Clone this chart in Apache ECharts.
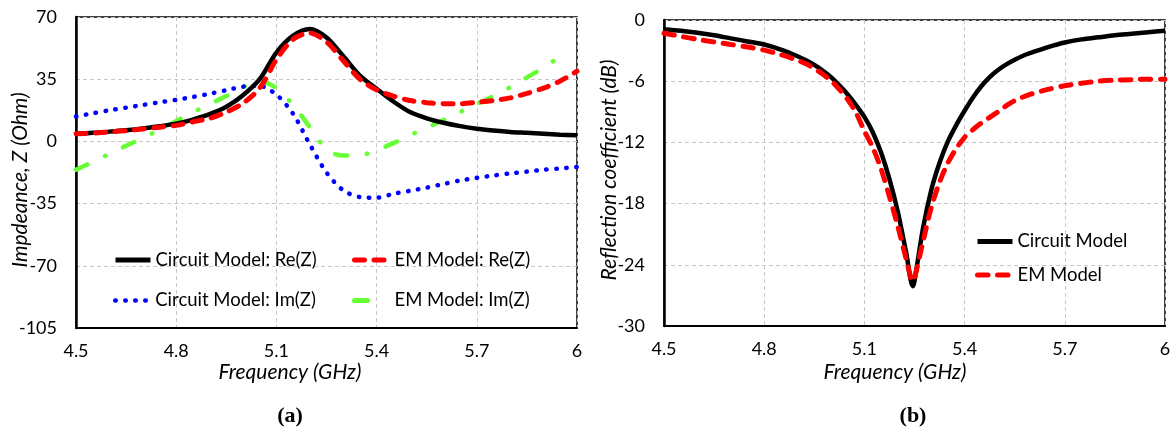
<!DOCTYPE html>
<html>
<head>
<meta charset="utf-8">
<script src="https://cdn.jsdelivr.net/npm/echarts@6/dist/echarts.min.js"></script>
<style>
html,body{margin:0;padding:0;background:#fff;}
#c{width:1175px;height:432px;}
</style>
</head>
<body>
<div id="c"></div>
<script>
// ---------- Data (a): impedance ----------
const freqZ = [4.5,4.55,4.6,4.65,4.7,4.75,4.8,4.85,4.9,4.95,5.0,5.05,5.1,5.15,5.2,5.25,5.3,5.35,5.4,5.45,5.5,5.55,5.6,5.65,5.7,5.75,5.8,5.85,5.9,5.95,6.0];
const reCircuit = [4.3,4.8,5.5,6.3,7.3,8.5,10,12.3,15.3,19.5,26,35,50,59.5,63.3,58.5,48,37,29.6,22.5,16.5,13,10.5,8.6,7.1,6.1,5.3,4.8,4.3,3.8,3.4];
const reEM = [4.3,4.7,5.3,6,7,8,9,11,13,16.5,21.5,30,46,57.5,61,56,45.5,35,29,25.5,23,21.8,21.2,21.2,22,23,24.5,27,30,34,39.5];
const imCircuit = [14,15.8,17.5,19,20.5,22,23.4,25,26.8,28.8,30.8,31.2,26.3,15.5,-1.7,-17.5,-27.5,-31.3,-31.7,-29.5,-27.8,-26,-24,-22,-20.5,-19.2,-18,-17,-16,-15.2,-14.4];
const imEM = [-16,-11.5,-7,-2.5,2,6.5,11.5,16.3,21,25.5,30.5,34,30,20.5,8,-4.5,-8,-7.8,-5,-1,3.5,7.7,12,16.5,21,25.5,30.5,36,41.5,48,null];
const yTicksZ = {min:-105, max:70, interval:35};

// ---------- Data (b): reflection coefficient ----------
const freqS = [4.5,4.55,4.6,4.65,4.7,4.75,4.8,4.85,4.9,4.925,4.95,4.975,5.0,5.025,5.05,5.075,5.1,5.125,5.15,5.175,5.2,5.225,5.245,5.25,5.275,5.3,5.325,5.35,5.375,5.4,5.425,5.45,5.475,5.5,5.525,5.55,5.575,5.6,5.65,5.7,5.75,5.8,5.85,5.9,5.95,6.0];
const s11Circuit = [-0.9,-1.05,-1.25,-1.5,-1.8,-2.1,-2.4,-2.9,-3.55,-3.95,-4.4,-4.95,-5.6,-6.4,-7.3,-8.35,-9.5,-11.0,-13.0,-15.6,-18.8,-22.8,-26.1,-25.6,-20.5,-16.7,-14.0,-11.9,-10.3,-8.9,-7.6,-6.5,-5.6,-4.9,-4.35,-3.9,-3.5,-3.2,-2.65,-2.2,-1.9,-1.7,-1.5,-1.35,-1.2,-1.05];
const s11EM = [-1.3,-1.6,-1.9,-2.15,-2.4,-2.65,-2.95,-3.4,-3.95,-4.3,-4.75,-5.3,-5.95,-6.8,-7.8,-9.1,-10.9,-12.5,-14.6,-17.3,-20.2,-23.4,-25.6,-25.3,-21.8,-18.4,-15.9,-14.0,-12.6,-11.5,-10.75,-10.1,-9.55,-9.0,-8.4,-7.9,-7.55,-7.25,-6.8,-6.45,-6.2,-6.0,-5.9,-5.85,-5.8,-5.8];
const yTicksS = {min:-30, max:0, interval:6};
const xTicks = {min:4.5, max:6, interval:0.3};

function zip(xs, ys){ return xs.map((x,i)=>[x, ys[i]]); }

const FONT = 'Lato';
const labelStyle = {color:'#000', fontFamily:FONT, fontSize:18};
const splitLine = {show:true, lineStyle:{color:'#c8c8c8', type:[4,3], width:1}};

function xAxis(gridIndex, padRight, gap){
  return {
    type:'value', gridIndex, min:xTicks.min, max:xTicks.max, interval:xTicks.interval,
    axisLine:{show:true, onZero:false, lineStyle:{color:'#000', width:2}},
    axisTick:{show:false},
    axisLabel:Object.assign({margin:14, formatter:v=>String(+v.toFixed(1))}, labelStyle),
    splitLine,
    name:'Frequency (GHz)', nameLocation:'middle', nameGap:gap, nameMoveOverlap:false,
    nameTextStyle:{color:'#000', fontFamily:FONT, fontSize:21, fontStyle:'italic', padding:[0,padRight,0,0]}
  };
}
function yAxis(gridIndex, t, name, gap, padL, padR){
  return {
    type:'value', gridIndex, min:t.min, max:t.max, interval:t.interval,
    axisLine:{show:true, onZero:false, lineStyle:{color:'#000', width:2.5}},
    axisTick:{show:false},
    axisLabel:Object.assign({margin:19}, labelStyle),
    splitLine,
    name, nameLocation:'middle', nameGap:gap, nameMoveOverlap:false,
    nameTextStyle:{color:'#000', fontFamily:FONT, fontSize:21, fontStyle:'italic', padding:[0,padR,0,padL]}
  };
}
function legend(name, left, top, w, type){
  const ls = {width:w};
  if (type) ls.type = type;
  return {
    data:[name], left, top, padding:0, itemWidth:35, itemHeight:14,
    itemStyle:{opacity:0},
    lineStyle:ls,
    textStyle:{color:'#000', fontFamily:FONT, fontSize:18.5}
  };
}

const chart = echarts.init(document.getElementById('c'), null, {renderer:'canvas'});
chart.setOption({
  animation:false,
  backgroundColor:'#fff',
  grid:[
    {left:76, right:598, top:17, bottom:104, show:true, borderColor:'#000', borderWidth:1.5, containLabel:false},
    {left:664, right:10, top:20, bottom:106, show:true, borderColor:'#000', borderWidth:1.5, containLabel:false}
  ],
  xAxis:[ xAxis(0, 73, 33.5), xAxis(1, 39, 35.5) ],
  yAxis:[ yAxis(0, yTicksZ, 'Impdeance, Z (Ohm)', 45.5, 0, 15), yAxis(1, yTicksS, 'Reflection coefficient (dB)', 44, 6, 0) ],
  legend:[
    legend('Circuit Model: Re(Z)', 113, 250.5, 5),
    legend('EM Model: Re(Z)', 352, 250.5, 5),
    legend('Circuit Model: Im(Z)', 113, 291, 4.5),
    legend('EM Model: Im(Z)', 352, 291, 5, [13, 60]),
    legend('Circuit Model', 975, 232, 5),
    legend('EM Model', 975, 265.5, 5)
  ],
  graphic:[
    {type:'text', x:290, y:416, style:{text:'(a)', fill:'#000', font:'bold 22px "Liberation Serif"', textAlign:'center', textVerticalAlign:'middle'}},
    {type:'text', x:913, y:416, style:{text:'(b)', fill:'#000', font:'bold 22px "Liberation Serif"', textAlign:'center', textVerticalAlign:'middle'}}
  ],
  series:[
    {name:'Circuit Model: Re(Z)', type:'line', xAxisIndex:0, yAxisIndex:0, data:zip(freqZ, reCircuit), smooth:0.3, symbol:'none', z:5,
      lineStyle:{color:'#000', width:4.5}, itemStyle:{color:'#000'}},
    {name:'EM Model: Re(Z)', type:'line', xAxisIndex:0, yAxisIndex:0, data:zip(freqZ, reEM), smooth:0.3, symbol:'none', z:6,
      lineStyle:{color:'#ff0000', width:5, type:[10,9.5], cap:'round'}, itemStyle:{color:'#ff0000'}},
    {name:'Circuit Model: Im(Z)', type:'line', xAxisIndex:0, yAxisIndex:0, data:zip(freqZ, imCircuit), smooth:0.3, symbol:'none', z:4,
      lineStyle:{color:'#0000ff', width:4.5, type:[0.5,9.5], cap:'round'}, itemStyle:{color:'#0000ff'}},
    {name:'EM Model: Im(Z)', type:'line', xAxisIndex:0, yAxisIndex:0, data:zip(freqZ, imEM), smooth:0.3, symbol:'none', z:3, connectNulls:false,
      lineStyle:{color:'#66ff33', width:4.5, type:[12.5,19.5,0.5,19.5], cap:'round'}, itemStyle:{color:'#66ff33'}},
    {name:'Circuit Model', type:'line', xAxisIndex:1, yAxisIndex:1, data:zip(freqS, s11Circuit), smooth:0.3, symbol:'none', z:4,
      lineStyle:{color:'#000', width:4.5}, itemStyle:{color:'#000'}},
    {name:'EM Model', type:'line', xAxisIndex:1, yAxisIndex:1, data:zip(freqS, s11EM), smooth:0.3, symbol:'none', z:5,
      lineStyle:{color:'#ff0000', width:5, type:[10.5,9.5], cap:'round'}, itemStyle:{color:'#ff0000'}}
  ]
});
</script>
</body>
</html>
